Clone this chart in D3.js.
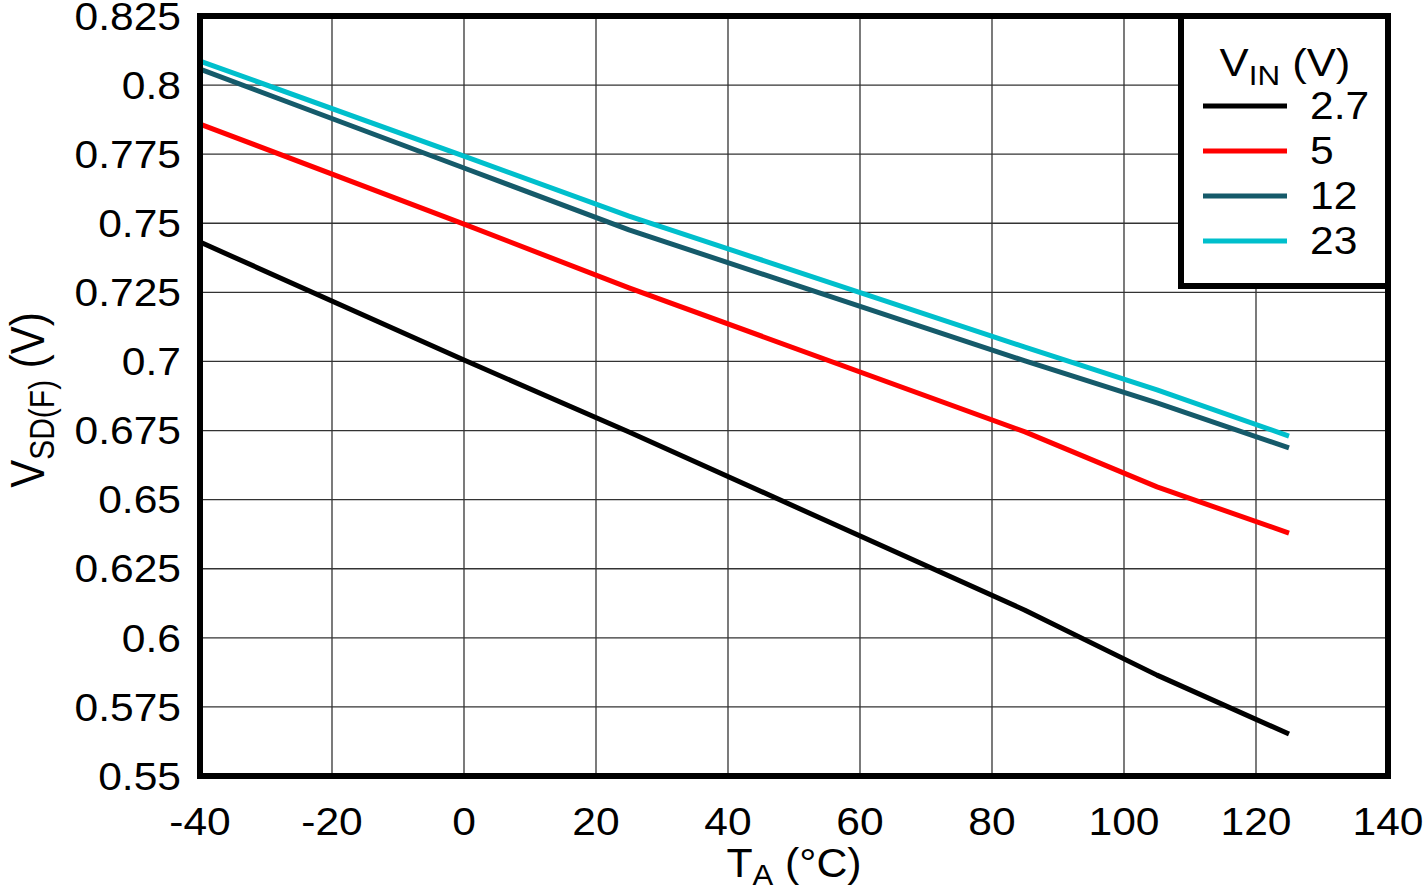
<!DOCTYPE html>
<html>
<head>
<meta charset="utf-8">
<script src="https://cdn.jsdelivr.net/npm/d3@7"></script>
<style>
  body { margin: 0; background: #fff; }
  text { font-family: "Liberation Sans", Arial, sans-serif; fill: #000; }
</style>
</head>
<body>
<div id="chart"></div>
<script>

// temperatures (°C) where the curves were read
var temps = [-40, 0, 25, 85, 105, 125];

// V_SD(F) per V_IN
var v27 = [0.7432, 0.7005, 0.6745, 0.6100, 0.5865, 0.5652];
var v5  = [0.7859, 0.7497, 0.7266, 0.6745, 0.6546, 0.6379];
var v12 = [0.8058, 0.7700, 0.7476, 0.7002, 0.6850, 0.6687];
var v23 = [0.8087, 0.7743, 0.7526, 0.7052, 0.6897, 0.6730];

var seriesNames = ["2.7", "5", "12", "23"];
var seriesColors = ["#000000", "#ff0000", "#155a6a", "#00bfcc"];

var xTicks = [-40, -20, 0, 20, 40, 60, 80, 100, 120, 140];
var yTicks = [0.55, 0.575, 0.6, 0.625, 0.65, 0.675, 0.7, 0.725, 0.75, 0.775, 0.8, 0.825];

var width = 1423, height = 888;
var pL = 200, pR = 1388, pT = 16, pB = 776;
var sx = 1.12; // text in the original is a bit wide

var svg = d3.select("#chart").append("svg")
  .attr("width", width)
  .attr("height", height);

var x = d3.scaleLinear().domain([-40, 140]).range([pL, pR]);
var y = d3.scaleLinear().domain([0.55, 0.825]).range([pB, pT]);

function place(tx, ty) { return "translate(" + tx + "," + ty + ") scale(" + sx + ",1)"; }

// grid
svg.append("g").selectAll("line")
  .data(xTicks)
  .enter().append("line")
  .attr("x1", function(d) { return x(d); })
  .attr("x2", function(d) { return x(d); })
  .attr("y1", pT).attr("y2", pB)
  .attr("stroke", "#333").attr("stroke-width", 1.3);

svg.append("g").selectAll("line")
  .data(yTicks)
  .enter().append("line")
  .attr("y1", function(d) { return y(d); })
  .attr("y2", function(d) { return y(d); })
  .attr("x1", pL).attr("x2", pR)
  .attr("stroke", "#333").attr("stroke-width", 1.3);

// tick labels
svg.append("g").selectAll("text")
  .data(yTicks)
  .enter().append("text")
  .attr("transform", function(d) { return place(181, y(d)); })
  .attr("dy", "0.36em")
  .attr("text-anchor", "end")
  .style("font-size", "38px")
  .text(function(d) { return String(+d.toFixed(3)); });

svg.append("g").selectAll("text")
  .data(xTicks)
  .enter().append("text")
  .attr("transform", function(d) { return place(x(d), 835); })
  .attr("text-anchor", "middle")
  .style("font-size", "38px")
  .text(function(d) { return d; });

// curves
var all = [v27, v5, v12, v23];
var line = d3.line()
  .x(function(d, i) { return x(temps[i]); })
  .y(function(d) { return y(d); });

svg.append("g").selectAll("path")
  .data(all)
  .enter().append("path")
  .attr("d", line)
  .attr("fill", "none")
  .attr("stroke", function(d, i) { return seriesColors[i]; })
  .attr("stroke-width", 5)
  .attr("stroke-linejoin", "round");

// frame
svg.append("rect")
  .attr("x", pL).attr("y", pT)
  .attr("width", pR - pL).attr("height", pB - pT)
  .attr("fill", "none").attr("stroke", "#000").attr("stroke-width", 6);

// legend
var lg = svg.append("g");
lg.append("rect")
  .attr("x", 1181).attr("y", pT)
  .attr("width", pR - 1181).attr("height", 270)
  .attr("fill", "#fff").attr("stroke", "#000").attr("stroke-width", 6);

var lt = lg.append("text")
  .attr("transform", place(1285, 76))
  .attr("text-anchor", "middle")
  .style("font-size", "39px");
lt.append("tspan").text("V");
lt.append("tspan").attr("dy", 9).style("font-size", "28px").text("IN");
lt.append("tspan").attr("dy", -9).text(" (V)");

var items = lg.selectAll("g.item")
  .data(seriesNames)
  .enter().append("g")
  .attr("class", "item")
  .attr("transform", function(d, i) { return "translate(0," + (106 + i * 45) + ")"; });

items.append("line")
  .attr("x1", 1203).attr("x2", 1287)
  .attr("stroke", function(d, i) { return seriesColors[i]; })
  .attr("stroke-width", 5);

items.append("text")
  .attr("transform", place(1310, 13))
  .style("font-size", "38px")
  .text(function(d) { return d; });

// axis titles
var xt = svg.append("text")
  .attr("transform", "translate(" + ((pL + pR) / 2) + ",877) scale(1.07,1)")
  .attr("text-anchor", "middle")
  .style("font-size", "40px");
xt.append("tspan").text("T");
xt.append("tspan").attr("dy", 8).style("font-size", "29px").text("A");
xt.append("tspan").attr("dy", -8).text(" (°C)");

var yt = svg.append("text")
  .attr("transform", "translate(44,400) scale(1.15,1) rotate(-90)")
  .attr("text-anchor", "middle")
  .style("font-size", "42px");
yt.append("tspan").text("V");
yt.append("tspan").attr("dy", 9).style("font-size", "30px").text("SD(F)");
yt.append("tspan").attr("dy", -9).text(" (V)");

</script>
</body>
</html>
